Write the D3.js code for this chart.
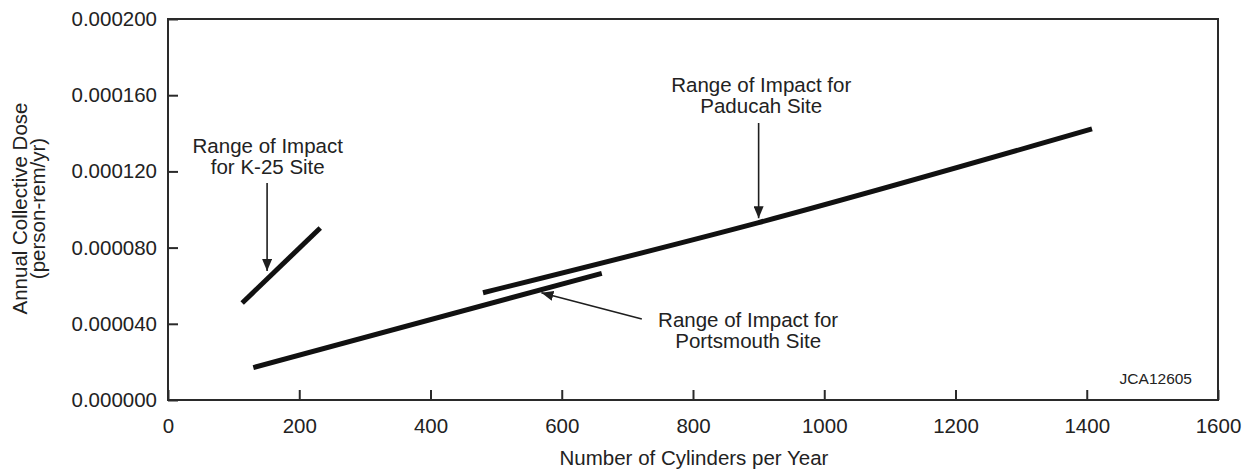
<!DOCTYPE html>
<html>
<head>
<meta charset="utf-8">
<script src="https://cdn.jsdelivr.net/npm/d3@7"></script>
<style>
  body { margin: 0; background: #fff; }
  svg { display: block; font-family: "Liberation Sans", Arial, sans-serif; }
</style>
</head>
<body>
<svg id="chart"></svg>
<script>
// ranges (cylinders/yr, person-rem/yr)
var k25X = [113, 232];
var k25Y = [0.0000509, 0.0000903];
var paducahX = [480, 900, 1408];
var paducahY = [0.0000563, 0.0000931, 0.0001423];
var portsmouthX = [130, 661];
var portsmouthY = [0.0000170, 0.0000665];

var xTicks = [0, 200, 400, 600, 800, 1000, 1200, 1400, 1600];
var yTicks = [0, 0.00004, 0.00008, 0.00012, 0.00016, 0.0002];

// annotations: label anchor + arrow tail/tip, all in data units
var labels = [
  { lines: ["Range of Impact", "for K-25 Site"], x: 152, y: 0.0001333,
    arrow: [[151, 0.0001139], [151, 0.0000677]] },
  { lines: ["Range of Impact for", "Paducah Site"], x: 904, y: 0.0001653,
    arrow: [[900, 0.0001454], [900, 0.0000954]] },
  { lines: ["Range of Impact for", "Portsmouth Site"], x: 884, y: 0.0000420,
    arrow: [[722, 0.0000425], [569, 0.0000563]] }
];

var width = 1252, height = 471;
var margin = { top: 19, right: 34, bottom: 71, left: 168 };
var w = width - margin.left - margin.right;
var h = height - margin.top - margin.bottom;

var svg = d3.select('#chart')
    .attr('width', width)
    .attr('height', height);

var defs = svg.append('defs');
defs.append('marker')
    .attr('id', 'head')
    .attr('markerUnits', 'userSpaceOnUse')
    .attr('viewBox', '0 0 12 10')
    .attr('refX', 12)
    .attr('refY', 5)
    .attr('markerWidth', 12)
    .attr('markerHeight', 10)
    .attr('orient', 'auto')
    .append('path')
    .attr('d', 'M0,0L12,5L0,10Z')
    .attr('fill', '#1e1e1e');

var g = svg.append('g')
    .attr('transform', 'translate(' + margin.left + ',' + margin.top + ')');

var x = d3.scaleLinear().domain([0, 1600]).range([0, w]);
var y = d3.scaleLinear().domain([0, 0.0002]).range([h, 0]);

// axes with inward ticks
var xAxis = d3.axisBottom(x).tickValues(xTicks).tickSize(-10).tickPadding(18)
    .tickFormat(d3.format('d'));
var yAxis = d3.axisLeft(y).tickValues(yTicks).tickSize(-10).tickPadding(11)
    .tickFormat(d3.format('.6f'));

var gx = g.append('g')
    .attr('transform', 'translate(0,' + h + ')')
    .call(xAxis);
var gy = g.append('g').call(yAxis);

[gx, gy].forEach(function (ax) {
  ax.select('.domain').remove();
  ax.selectAll('line').attr('stroke', '#2a2a2a').attr('stroke-width', 2);
  ax.selectAll('text').attr('font-size', 20.5).attr('fill', '#222')
    .attr('font-family', '"Liberation Sans", Arial, sans-serif');
});

// frame
g.append('rect')
    .attr('x', 0).attr('y', 0)
    .attr('width', w).attr('height', h)
    .attr('fill', 'none')
    .attr('stroke', '#2a2a2a')
    .attr('stroke-width', 2);

// range lines
var ranges = [
  { xs: k25X, ys: k25Y },
  { xs: paducahX, ys: paducahY },
  { xs: portsmouthX, ys: portsmouthY }
];
var line = d3.line()
    .x(function (d) { return x(d[0]); })
    .y(function (d) { return y(d[1]); });
var curve = d3.line()
    .x(function (d) { return x(d[0]); })
    .y(function (d) { return y(d[1]); })
    .curve(d3.curveMonotoneX);

g.selectAll('path.range')
    .data(ranges)
    .enter()
    .append('path')
    .attr('class', 'range')
    .attr('d', function (r) { return curve(d3.zip(r.xs, r.ys)); })
    .attr('fill', 'none')
    .attr('stroke', '#111')
    .attr('stroke-width', 5);

// annotation arrows and text
g.selectAll('path.arrow')
    .data(labels)
    .enter()
    .append('path')
    .attr('class', 'arrow')
    .attr('d', function (d) { return line(d.arrow); })
    .attr('stroke', '#1e1e1e')
    .attr('stroke-width', 1.6)
    .attr('fill', 'none')
    .attr('marker-end', 'url(#head)');

var lab = g.selectAll('text.lab')
    .data(labels)
    .enter()
    .append('text')
    .attr('class', 'lab')
    .attr('text-anchor', 'middle')
    .attr('font-size', 20.5)
    .attr('fill', '#222')
    .attr('x', function (d) { return x(d.x); })
    .attr('y', function (d) { return y(d.y) + 7; });

lab.selectAll('tspan')
    .data(function (d) { return d.lines.map(function (t) { return { t: t, x: x(d.x) }; }); })
    .enter()
    .append('tspan')
    .attr('x', function (d) { return d.x; })
    .attr('dy', function (d, i) { return i ? 21 : 0; })
    .text(function (d) { return d.t; });

// figure id
g.append('text')
    .attr('x', w - 26)
    .attr('y', h - 16)
    .attr('text-anchor', 'end')
    .attr('font-size', 15.5)
    .attr('fill', '#222')
    .text('JCA12605');

// axis titles
g.append('text')
    .attr('x', w / 2 + 1)
    .attr('y', h + 65)
    .attr('text-anchor', 'middle')
    .attr('font-size', 20.5)
    .attr('fill', '#222')
    .text('Number of Cylinders per Year');

var yt = svg.append('text')
    .attr('transform', 'translate(27,' + (margin.top + h / 2 - 1) + ') rotate(-90)')
    .attr('text-anchor', 'middle')
    .attr('font-size', 20.5)
    .attr('fill', '#222');
yt.append('tspan').attr('x', 0).attr('dy', 0).text('Annual Collective Dose');
yt.append('tspan').attr('x', 0).attr('dy', 18).text('(person-rem/yr)');
</script>
</body>
</html>
